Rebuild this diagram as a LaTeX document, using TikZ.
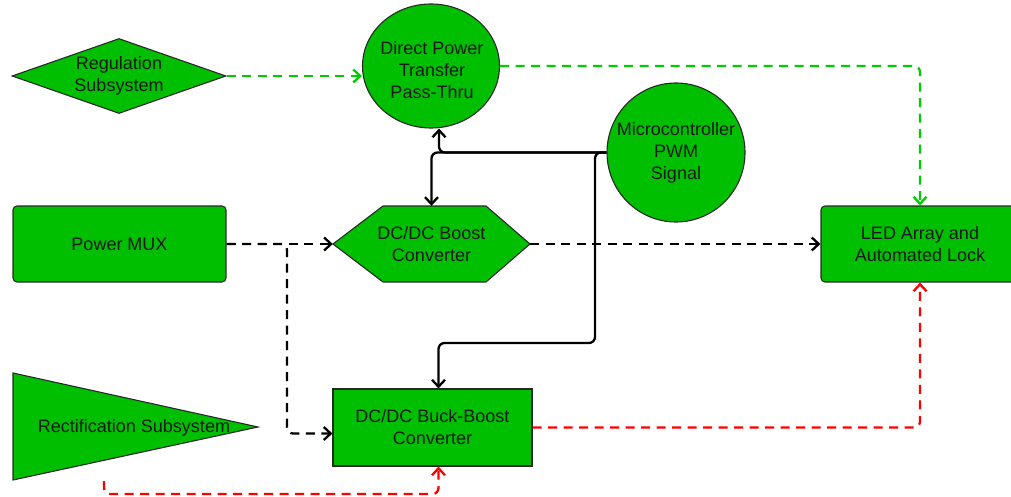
\documentclass[tikz,border=0pt]{standalone}
\usepackage{fontspec}
\setmainfont{Liberation Sans}
\usetikzlibrary{arrows.meta,shapes.geometric}
\definecolor{blockgreen}{RGB}{0,190,0}
\definecolor{linegreen}{RGB}{0,204,0}
\definecolor{edgegray}{RGB}{40,40,40}
\begin{document}
\begin{tikzpicture}[x=1pt,y=-1pt,
  label text/.style={align=center, text=black!90, font=\fontsize{18}{22}\selectfont, inner sep=0pt},
  block/.style={label text, draw=edgegray, line width=1.1pt, fill=blockgreen},
  outline/.style={draw=edgegray, line width=1.1pt, fill=blockgreen},
  link/.style={line width=2.3pt, rounded corners=6pt, -{Straight Barb[length=7pt,width=13pt]}},
  flow/.style={link, dash pattern=on 9pt off 6.5pt}]
\useasboundingbox (0,0) rectangle (1011,497);
\clip (0,0) rectangle (1011,497);

% ---- blocks ----
\node[block, diamond, shape aspect=2.85, minimum width=214pt, minimum height=75pt]
  (reg) at (119,76) {Regulation\\Subsystem};
\node[block, ellipse, inner xsep=-8pt, minimum width=137pt, minimum height=124pt]
  (dpt) at (431,66) {};
\node[label text] (dpt-text) at (432,70) {Direct Power\\Transfer\\Pass-Thru};
\node[block, ellipse, inner xsep=-14pt, minimum width=138pt, minimum height=139pt]
  (micro) at (676,152.5) {Microcontroller\\PWM\\Signal};
\node[block, rounded corners=4pt, minimum width=213pt, minimum height=76pt]
  (mux) at (119.5,244) {Power MUX};

% hexagonal boost converter
\filldraw[outline] (333,244) -- (383,206) -- (486,206) -- (530,244) -- (486,282) -- (383,282) -- cycle;
\node[label text, minimum width=197pt, minimum height=76pt]
  (boost) at (431.5,244) {DC/DC Boost\\Converter};

\node[block, minimum width=199pt, minimum height=77pt]
  (buck) at (432.5,427.5) {DC/DC Buck-Boost\\Converter};
\node[block, rounded corners=4pt, minimum width=198pt, minimum height=76pt]
  (led) at (920,244) {LED Array and\\Automated Lock};

% triangular rectification stage
\filldraw[outline] (13,373) -- (258,427) -- (13,480) -- cycle;
\node[label text] (rect) at (134,428) {Rectification Subsystem};
\coordinate (rect-out) at (104,481);

% ---- connectors ----
\draw[flow, draw=linegreen] (reg.east) -- (dpt.west |- reg.east);
\draw[flow, draw=linegreen] (dpt.east) -| (led.north);

\draw[flow] (mux.east) -- (boost.west);
\draw[flow] (mux.east) -- (287,244) |- ([yshift=-6pt]buck.west);
\draw[flow] (boost.east) -- (led.west);

\draw[flow, draw=red] (buck.east) -| (led.south);
\draw[flow, draw=red] (rect-out) -- (104,494) -| ([xshift=6pt]buck.south);

\draw[link] (micro.west) -| ([xshift=8pt]dpt.south);
\draw[link] (micro.west) -| (boost.north);
\draw[link] (micro.west) -| (595,343) -| ([xshift=6pt]buck.north);
\end{tikzpicture}
\end{document}
